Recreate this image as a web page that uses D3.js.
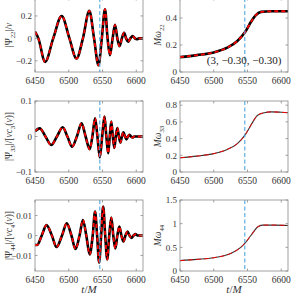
<!DOCTYPE html>
<html>
<head>
<meta charset="utf-8">
<script src="https://cdn.jsdelivr.net/npm/d3@7"></script>
<style>
body { margin: 0; background: #fff; }
svg { display: block; }
text { font-family: "Liberation Serif", "DejaVu Serif", serif; }
</style>
</head>
<body>
<svg width="291" height="296"></svg>
<script>
const xTicks = [6450, 6500, 6550, 6600];
const tMerger = 6546;
const spinLabel = "(3, \u22120.30, \u22120.30)";

// Psi_22 / nu  (extrema and zero crossings)
const t22 = [6450, 6455, 6465, 6477, 6489.5, 6501, 6511.5, 6521, 6530.5, 6537.5, 6544, 6549, 6553.7, 6557.5, 6561, 6565, 6568.5, 6572, 6575.3, 6578.7, 6582, 6585, 6588, 6591.3, 6594.7, 6598, 6601, 6604, 6610];
const psi22 = [0.06, 0, -0.21, 0, 0.2, 0, -0.18, 0, 0.245, 0, -0.24, 0, 0.26, 0, -0.15, 0, 0.12, 0, -0.07, 0, 0.05, 0, -0.03, 0, 0.02, 0, -0.008, 0, 0];

// Psi_33 / [nu c3(nu)]
const t33 = [6450, 6457, 6465.5, 6474, 6482.5, 6491, 6498, 6505, 6512, 6519, 6525, 6531, 6535, 6539, 6542.5, 6546, 6549.5, 6553, 6555.7, 6558.5, 6560.7, 6563, 6565.3, 6567.5, 6569.7, 6572, 6574.3, 6576.5, 6578.7, 6581, 6583.3, 6585.5, 6587.7, 6590, 6592.3, 6594.5, 6597, 6610];
const psi33 = [0.015, 0.023, 0, -0.024, 0, 0.026, 0, -0.029, 0, 0.037, 0, -0.036, 0, 0.051, 0, -0.059, 0, 0.056, 0, -0.047, 0, 0.042, 0, -0.032, 0, 0.024, 0, -0.017, 0, 0.012, 0, -0.008, 0, 0.005, 0, -0.003, 0, 0];

// Psi_44 / [nu c4(nu)]
const t44 = [6450, 6453, 6460, 6467, 6475, 6482, 6490, 6497, 6504, 6510, 6516, 6521, 6526, 6531, 6535.5, 6539, 6542, 6545, 6548, 6551, 6554, 6557, 6560, 6563, 6566, 6569, 6572, 6575, 6578, 6581, 6584, 6587, 6590, 6593, 6596, 6599, 6602, 6610];
const psi44 = [-0.0047, -0.0048, 0, 0.0052, 0, -0.0058, 0, 0.0061, 0, -0.0068, 0, 0.0078, 0, -0.0095, 0, 0.012, 0, -0.0135, 0, 0.0145, 0, -0.012, 0, 0.009, 0, -0.0065, 0, 0.0045, 0, -0.003, 0, 0.002, 0, -0.0012, 0, 0.0007, 0, 0];

// frequencies
const tw22 = [6450, 6475, 6500, 6520, 6535, 6547, 6555, 6562, 6570, 6585, 6610];
const omega22 = [0.11, 0.125, 0.145, 0.18, 0.23, 0.30, 0.37, 0.42, 0.445, 0.45, 0.45];
const tw33 = [6450, 6475, 6500, 6520, 6535, 6547, 6555, 6565, 6575, 6585, 6600, 6610];
const omega33 = [0.17, 0.19, 0.22, 0.27, 0.34, 0.45, 0.56, 0.68, 0.71, 0.72, 0.715, 0.71];
const tw44 = [6450, 6475, 6500, 6525, 6540, 6547, 6555, 6565, 6572, 6590, 6610];
const omega44 = [0.22, 0.245, 0.28, 0.37, 0.5, 0.6, 0.75, 0.93, 0.97, 0.97, 0.96];

const svg = d3.select("svg");

function rich(sel, parts) {
    // parts: [text, style]  style: "" normal, "i" italic, "s" subscript
    let shifted = false;
    parts.forEach(function(p) {
        const ts = sel.append("tspan").text(p[0]);
        if (p[1].includes("i")) ts.style("font-style", "italic");
        if (p[1].includes("s")) {
            ts.style("font-size", "0.72em");
            if (!shifted) { ts.attr("dy", 2.5); shifted = true; }
        } else if (shifted) {
            ts.attr("dy", -2.5); shifted = false;
        }
    });
}

function panel(o) {
    const x = d3.scaleLinear().domain([6450, 6610]).range([o.left, o.left + 108]);
    const y = d3.scaleLinear().domain(o.yDomain).range([o.bottom, o.top]);
    const g = svg.append("g");
    const id = "c" + o.left + "_" + o.bottom;
    g.append("clipPath").attr("id", id).append("rect")
        .attr("x", o.left).attr("y", o.top).attr("width", 108).attr("height", o.bottom - o.top);

    const line = d3.line().x(d => x(d[0])).y(d => y(d[1])).curve(d3.curveMonotoneX);
    const pts = d3.zip(o.t, o.v);
    const plot = g.append("g").attr("clip-path", "url(#" + id + ")");
    plot.append("path").attr("d", line(pts)).attr("fill", "none")
        .attr("stroke", o.thick ? "#000" : "#333").attr("stroke-width", o.thick ? 2.6 : 1.1);
    plot.append("path").attr("d", line(pts)).attr("fill", "none")
        .attr("stroke", "#f00").attr("stroke-width", o.thick ? 1.8 : 0.9)
        .attr("stroke-dasharray", o.thick ? "4,3" : "5,3");
    plot.append("line")
        .attr("x1", x(tMerger)).attr("x2", x(tMerger))
        .attr("y1", o.top).attr("y2", o.bottom)
        .attr("stroke", "#4da6e0").attr("stroke-width", 1.1).attr("stroke-dasharray", "4,2.5");

    // frame
    g.append("rect").attr("x", o.left).attr("y", o.top).attr("width", 108).attr("height", o.bottom - o.top)
        .attr("fill", "none").attr("stroke", "#8a8a8a").attr("stroke-width", 0.8);

    // ticks inside, on all sides
    xTicks.forEach(function(tk) {
        g.append("line").attr("x1", x(tk)).attr("x2", x(tk)).attr("y1", o.bottom).attr("y2", o.bottom - 2.5)
            .attr("stroke", "#8a8a8a").attr("stroke-width", 0.8);
        g.append("line").attr("x1", x(tk)).attr("x2", x(tk)).attr("y1", o.top).attr("y2", o.top + 2.5)
            .attr("stroke", "#8a8a8a").attr("stroke-width", 0.8);
        g.append("text").attr("x", x(tk)).attr("y", o.bottom + 12)
            .attr("text-anchor", "middle").attr("font-size", 9.5).attr("fill", "#333").text(tk);
    });
    o.yTicks.forEach(function(tk, i) {
        g.append("line").attr("x1", o.left).attr("x2", o.left + 2.5).attr("y1", y(tk)).attr("y2", y(tk))
            .attr("stroke", "#8a8a8a").attr("stroke-width", 0.8);
        g.append("line").attr("x1", o.left + 108).attr("x2", o.left + 105.5).attr("y1", y(tk)).attr("y2", y(tk))
            .attr("stroke", "#8a8a8a").attr("stroke-width", 0.8);
        g.append("text").attr("x", o.left - 3).attr("y", y(tk) + 3.3)
            .attr("text-anchor", "end").attr("font-size", 9).attr("fill", "#333").text(o.yLabels[i]);
    });

    const yl = g.append("text")
        .attr("transform", "translate(" + (o.left - o.labelGap) + "," + ((o.top + o.bottom) / 2) + ") rotate(-90)")
        .attr("text-anchor", "middle").attr("font-size", 9.5).attr("fill", "#333");
    rich(yl, o.yTitle);
    return {x: x, y: y};
}

panel({left: 35, top: -2, bottom: 72, yDomain: [-0.3, 0.36], t: t22, v: psi22, thick: true,
    yTicks: [-0.2, 0, 0.2], yLabels: ["\u22120.2", "0", "0.2"], labelGap: 23,
    yTitle: [["|\u03a8", ""], ["22", "s"], ["|/", ""], ["\u03bd", "i"]]});
const p2 = panel({left: 180, top: -2, bottom: 72, yDomain: [0, 0.548], t: tw22, v: omega22, thick: true,
    yTicks: [0, 0.2, 0.4], yLabels: ["0", "0.2", "0.4"], labelGap: 19,
    yTitle: [["M", "i"], ["\u03c9", "i"], ["22", "s"]]});
panel({left: 35, top: 101, bottom: 172, yDomain: [-0.1, 0.1], t: t33, v: psi33, thick: true,
    yTicks: [-0.1, 0, 0.1], yLabels: ["\u22120.1", "0", "0.1"], labelGap: 23,
    yTitle: [["|\u03a8", ""], ["33", "s"], ["|/[", ""], ["\u03bdc", "i"], ["3", "s"], ["(", ""], ["\u03bd", "i"], [")]", ""]]});
panel({left: 180, top: 101, bottom: 172, yDomain: [0, 0.85], t: tw33, v: omega33, thick: false,
    yTicks: [0, 0.2, 0.4, 0.6, 0.8], yLabels: ["0", "0.2", "0.4", "0.6", "0.8"], labelGap: 19,
    yTitle: [["M", "i"], ["\u03c9", "i"], ["33", "s"]]});
panel({left: 35, top: 200, bottom: 271, yDomain: [-0.0178, 0.0178], t: t44, v: psi44, thick: true,
    yTicks: [-0.01, 0, 0.01], yLabels: ["\u22120.01", "0", "0.01"], labelGap: 23,
    yTitle: [["|\u03a8", ""], ["44", "s"], ["|/[", ""], ["\u03bdc", "i"], ["4", "s"], ["(", ""], ["\u03bd", "i"], [")]", ""]]});
panel({left: 180, top: 200, bottom: 271, yDomain: [0, 1.5], t: tw44, v: omega44, thick: false,
    yTicks: [0, 0.5, 1, 1.5], yLabels: ["0", "0.5", "1", "1.5"], labelGap: 19,
    yTitle: [["M", "i"], ["\u03c9", "i"], ["44", "s"]]});

svg.append("text").attr("x", p2.x(6545)).attr("y", 64).attr("text-anchor", "middle")
    .attr("font-size", 11).attr("fill", "#222").text(spinLabel);

[89, 234].forEach(function(cx) {
    const t = svg.append("text").attr("x", cx).attr("y", 293).attr("text-anchor", "middle")
        .attr("font-size", 11).attr("fill", "#333");
    rich(t, [["t", "i"], ["/", ""], ["M", "i"]]);
});
</script>
</body>
</html>
